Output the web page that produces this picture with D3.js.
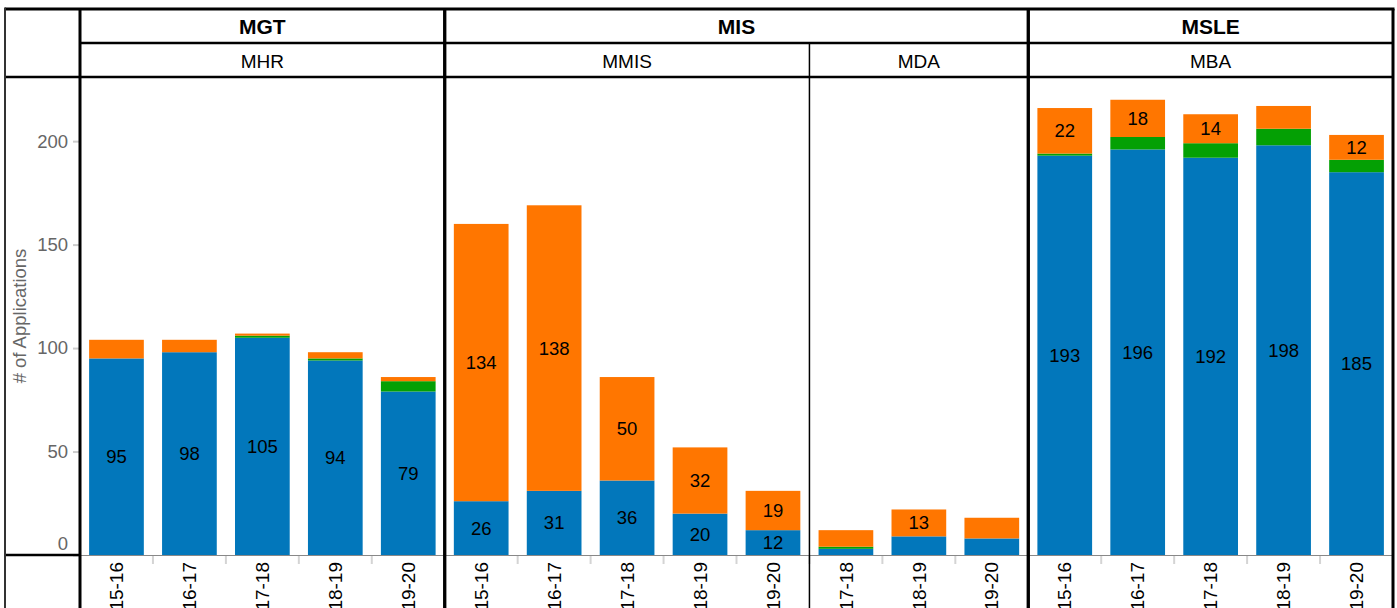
<!DOCTYPE html>
<html>
<head>
<meta charset="utf-8">
<script src="https://cdn.jsdelivr.net/npm/d3@7"></script>
<style>
  body { margin: 0; background: #fff; }
  svg { display: block; font-family: "Liberation Sans", Arial, sans-serif; }
</style>
</head>
<body>
<svg id="chart" width="1397" height="608"></svg>
<script>
var paneNames = ["MHR", "MMIS", "MDA", "MBA"];
var paneGroups = ["MGT", "MIS", "MIS", "MSLE"];
var groupNames = ["MGT", "MIS", "MSLE"];
var paneYears = [
  ["15-16", "16-17", "17-18", "18-19", "19-20"],
  ["15-16", "16-17", "17-18", "18-19", "19-20"],
  ["17-18", "18-19", "19-20"],
  ["15-16", "16-17", "17-18", "18-19", "19-20"]
];
var blueVals   = [[95, 98, 105, 94, 79], [26, 31, 36, 20, 12], [3, 9, 8], [193, 196, 192, 198, 185]];
var greenVals  = [[0, 0, 1, 1, 5], [0, 0, 0, 0, 0], [1, 0, 0], [1, 6, 7, 8, 6]];
var orangeVals = [[9, 6, 1, 3, 2], [134, 138, 50, 32, 19], [8, 13, 10], [22, 18, 14, 11, 12]];
var yTicks = [0, 50, 100, 150, 200];
var seriesKeys = ["blue", "green", "orange"];
var seriesColors = ["#0277bb", "#04a004", "#ff7600"];

var svg = d3.select("#chart");
var plotLeft = 80, plotRight = 1393, frameTop = 9, head1 = 43, head2 = 77,
    base = 555, outerLeft = 5, frameBottom = 608;

// flatten into rows
var rows = [];
paneNames.forEach(function (p, i) {
  paneYears[i].forEach(function (yr, j) {
    rows.push({ key: p + "|" + yr, pane: p, group: paneGroups[i], year: yr,
      blue: blueVals[i][j], green: greenVals[i][j], orange: orangeVals[i][j] });
  });
});

var x = d3.scaleBand()
  .domain(rows.map(function (d) { return d.key; }))
  .range([plotLeft, plotRight])
  .paddingInner(0.25)
  .paddingOuter(0.125);
var y = d3.scaleLinear().domain([0, 231]).range([base, head2]);
var color = d3.scaleOrdinal().domain(seriesKeys).range(seriesColors);
var half = x.step() * 0.125;

var edgeOf = function (filterFn) {
  var keys = rows.filter(filterFn).map(function (d) { return d.key; });
  return [x(keys[0]) - half, x(keys[keys.length - 1]) + x.bandwidth() + half];
};

var stacked = d3.stack().keys(seriesKeys)(rows);

// bars
var layer = svg.append("g").selectAll("g.layer")
  .data(stacked)
  .enter().append("g")
    .attr("fill", function (d) { return color(d.key); });
layer.selectAll("rect")
  .data(function (d) { return d; })
  .enter().append("rect")
    .attr("x", function (d) { return x(d.data.key); })
    .attr("width", x.bandwidth())
    .attr("y", function (d) { return y(d[1]); })
    .attr("height", function (d) { return y(d[0]) - y(d[1]); });

// value labels (only segments tall enough)
stacked.forEach(function (s) {
  svg.append("g").selectAll("text")
    .data(s.filter(function (d) { return d[1] - d[0] >= 12; }))
    .enter().append("text")
      .attr("x", function (d) { return x(d.data.key) + x.bandwidth() / 2; })
      .attr("y", function (d) { return y((d[0] + d[1]) / 2); })
      .attr("dy", "0.35em")
      .attr("text-anchor", "middle")
      .style("font-size", "18.5px")
      .attr("fill", "#000")
      .text(function (d) { return d[1] - d[0]; });
});

// y axis
var yAxis = svg.append("g")
  .attr("transform", "translate(" + plotLeft + ",0)")
  .call(d3.axisLeft(y).tickValues(yTicks).tickSize(7).tickPadding(5));
yAxis.select(".domain").remove();
yAxis.selectAll(".tick line").attr("stroke", "#ccc").attr("stroke-width", 2);
yAxis.selectAll(".tick text")
  .style("font-size", "18.5px")
  .style("font-family", "'Liberation Sans', Arial, sans-serif")
  .attr("fill", "#666")
  .attr("dy", function (d) { return d === 0 ? "-0.32em" : "0.32em"; });

svg.append("text")
  .attr("transform", "translate(20," + ((base + head2) / 2) + ") rotate(-90)")
  .attr("dy", "0.35em")
  .attr("text-anchor", "middle")
  .style("font-size", "18.5px")
  .attr("fill", "#666")
  .text("# of Applications");

// x axis
var xAxis = svg.append("g")
  .attr("transform", "translate(0," + base + ")")
  .call(d3.axisBottom(x).tickSize(0).tickFormat(function (k) { return k.split("|")[1]; }));
xAxis.select(".domain").remove();
xAxis.selectAll(".tick text")
  .style("font-size", "19px")
  .style("font-family", "'Liberation Sans', Arial, sans-serif")
  .attr("fill", "#000")
  .attr("transform", "rotate(-90)")
  .attr("text-anchor", "end")
  .attr("x", -7)
  .attr("y", 0)
  .attr("dy", "0.35em");

svg.append("g").selectAll("line.sep")
  .data(rows.slice(1))
  .enter().append("line")
    .attr("x1", function (d) { return x(d.key) - half; })
    .attr("x2", function (d) { return x(d.key) - half; })
    .attr("y1", base)
    .attr("y2", base + 9)
    .attr("stroke", "#d4d4d4")
    .attr("stroke-width", 2);

svg.append("line")
  .attr("x1", plotLeft).attr("x2", plotRight)
  .attr("y1", base + 0.5).attr("y2", base + 0.5)
  .attr("stroke", "#888").attr("stroke-width", 1);

// headers and frame
var borders = svg.append("g").attr("stroke", "#000");
groupNames.forEach(function (g) {
  var e = edgeOf(function (d) { return d.group === g; });
  svg.append("text")
    .attr("x", (e[0] + e[1]) / 2)
    .attr("y", (frameTop + head1) / 2 + 1)
    .attr("dy", "0.35em")
    .attr("text-anchor", "middle")
    .style("font-size", "21px")
    .style("font-weight", "bold")
    .text(g);
  borders.append("line")
    .attr("x1", e[0]).attr("x2", e[0]).attr("y1", frameTop).attr("y2", frameBottom)
    .attr("stroke-width", 3);
  borders.append("line")
    .attr("x1", e[1]).attr("x2", e[1]).attr("y1", frameTop).attr("y2", frameBottom)
    .attr("stroke-width", 3);
});
paneNames.forEach(function (p, i) {
  var e = edgeOf(function (d) { return d.pane === p; });
  svg.append("text")
    .attr("x", (e[0] + e[1]) / 2)
    .attr("y", (head1 + head2) / 2 + 1)
    .attr("dy", "0.35em")
    .attr("text-anchor", "middle")
    .style("font-size", "19px")
    .text(p);
  if (i > 0 && paneGroups[i] === paneGroups[i - 1]) {
    borders.append("line")
      .attr("x1", e[0]).attr("x2", e[0]).attr("y1", head1).attr("y2", frameBottom)
      .attr("stroke-width", 1.5);
  }
});

borders.append("line").attr("x1", outerLeft).attr("x2", plotRight + 1.5).attr("y1", frameTop).attr("y2", frameTop).attr("stroke-width", 3);
borders.append("line").attr("x1", plotLeft).attr("x2", plotRight).attr("y1", head1).attr("y2", head1).attr("stroke-width", 2.5);
borders.append("line").attr("x1", outerLeft).attr("x2", plotRight).attr("y1", head2).attr("y2", head2).attr("stroke-width", 2.5);
borders.append("line").attr("x1", outerLeft).attr("x2", plotLeft).attr("y1", base).attr("y2", base).attr("stroke-width", 2.5);
borders.append("line").attr("x1", outerLeft).attr("x2", outerLeft).attr("y1", frameTop - 1.5).attr("y2", frameBottom)
  .attr("stroke", "#333").attr("stroke-width", 2);
</script>
</body>
</html>
